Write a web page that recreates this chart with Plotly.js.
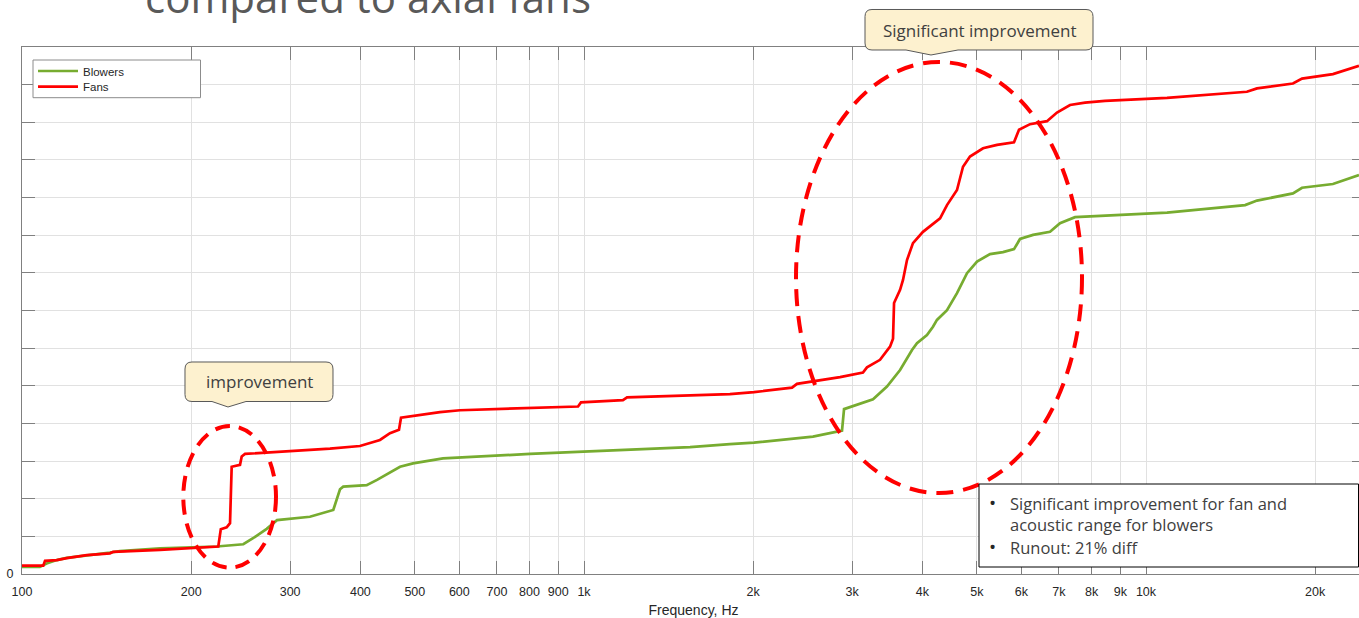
<!DOCTYPE html>
<html>
<head>
<meta charset="utf-8">
<script src="https://cdn.plot.ly/plotly-3.0.1.min.js"></script>
<style>
html,body{margin:0;padding:0;overflow:hidden;background:#ffffff;}
#chart{width:1365px;height:618px;}
</style>
</head>
<body>
<div id="chart"></div>
<script>
// ---------------- DATA ----------------
const seriesNames = ['Blowers', 'Fans'];

const blowerFreq = [100,107.6,110.6,115.3,120.1,130.4,143.4,149.3,176.1,222.0,247.6,257.7,272.5,284.3,325.3,358.0,362.8,368.0,372.9,410.5,428.3,448.0,470.6,496.3,532.1,561.2,801.6,1055,1544,1818,2007,2555,2740,2878,2902,3061,3268,3460,3651,3834,3913,4076,4178,4247,4425,4610,4803,5004,5278,5566,5823,5968,6295,6749,7031,7476,8282,10900,15010,15760,18260,18950,21510,23930];
const blowerLevel = [0.19,0.19,0.28,0.37,0.43,0.49,0.57,0.61,0.68,0.73,0.79,0.95,1.20,1.43,1.52,1.70,1.97,2.25,2.32,2.36,2.50,2.67,2.85,2.94,3.01,3.07,3.19,3.27,3.37,3.45,3.49,3.65,3.74,3.81,4.38,4.49,4.64,4.98,5.42,5.95,6.13,6.35,6.57,6.75,7.01,7.46,7.99,8.30,8.50,8.55,8.63,8.90,9.01,9.09,9.32,9.48,9.51,9.60,9.80,9.92,10.11,10.26,10.36,10.60];

const fanFreq = [100,109.1,109.9,115.3,120.1,129.5,130.4,143.4,145.3,176.1,196.6,223.5,225.8,231.3,234.5,236.1,244.3,246.0,249.4,312.5,353.2,399.3,433.5,451.6,468.6,472.5,500.4,554.3,601.6,801.6,975.7,987.8,1173,1193,1818,2007,2345,2393,2555,2855,3136,3188,3363,3504,3547,3562,3651,3695,3756,3849,4010,4301,4425,4610,4725,4862,5129,5432,5823,5943,6218,6665,6944,7325,7790,8453,10900,15120,15760,18260,18950,21510,23930];
const fanLevel = [0.22,0.22,0.35,0.37,0.42,0.48,0.50,0.55,0.59,0.64,0.68,0.73,1.19,1.24,1.35,2.85,2.90,3.12,3.19,3.27,3.33,3.40,3.56,3.74,3.83,4.15,4.21,4.30,4.35,4.42,4.45,4.56,4.62,4.69,4.78,4.83,4.95,5.05,5.11,5.23,5.35,5.49,5.69,6.04,6.25,7.20,7.55,7.81,8.34,8.79,9.09,9.45,9.80,10.20,10.82,11.09,11.31,11.40,11.47,11.80,11.95,12.03,12.26,12.46,12.52,12.57,12.65,12.81,12.90,13.03,13.16,13.28,13.50];

const xTickVals = [100,200,300,400,500,600,700,800,900,1000,2000,3000,4000,5000,6000,7000,8000,9000,10000,20000];
const xTickText = ['100','200','300','400','500','600','700','800','900','1k','2k','3k','4k','5k','6k','7k','8k','9k','10k','20k'];
const yTickVals = [0,1,2,3,4,5,6,7,8,9,10,11,12,13,14];
const yTickText = ['0','','','','','','','','','','','','','',''];

const titleText = 'compared to axial fans';
const xTitleText = 'Frequency, Hz';
const calloutSmallText = 'improvement';
const calloutBigText = 'Significant improvement';
const noteLine1 = 'Significant improvement for fan and<br>acoustic range for blowers';
const noteLine2 = 'Runout: 21% diff';

// ---------------- LAYOUT GEOMETRY ----------------
const W = 1365, H = 618, ML = 22, MR = 0, MT = 47, MB = 44;
const PW = W - ML - MR, PH = H - MT - MB;
const DECADE_PX = 562;
function px(x){ return (x - ML) / PW; }
function py(y){ return (H - MB - y) / PH; }
function P(x, y){ return px(x).toFixed(5) + ',' + py(y).toFixed(5); }
function calloutPath(l, t, r, b, rad, w0, tipx, tipy, w1){
  return 'M' + P(l + rad, t) +
    ' L' + P(r - rad, t) + ' Q' + P(r, t) + ' ' + P(r, t + rad) +
    ' L' + P(r, b - rad) + ' Q' + P(r, b) + ' ' + P(r - rad, b) +
    ' L' + P(w1, b) + ' L' + P(tipx, tipy) + ' L' + P(w0, b) +
    ' L' + P(l + rad, b) + ' Q' + P(l, b) + ' ' + P(l, b - rad) +
    ' L' + P(l, t + rad) + ' Q' + P(l, t) + ' ' + P(l + rad, t) + ' Z';
}

const axisGray = '#808080';
const gridGray = '#e1e1e1';
const tickFont = {family: 'Liberation Sans, Arial, sans-serif', size: 12.5, color: '#262626'};
const legendFont = {family: 'Liberation Sans, Arial, sans-serif', size: 11.5, color: '#262626'};
const slideFont = 'Open Sans, sans-serif';

const traces = [
  {x: blowerFreq, y: blowerLevel, name: seriesNames[0], type: 'scatter', mode: 'lines',
   line: {color: '#77ac30', width: 2.7}, hoverinfo: 'skip', legend: 'legend'},
  {x: fanFreq, y: fanLevel, name: seriesNames[1], type: 'scatter', mode: 'lines',
   line: {color: '#ff0000', width: 2.7}, hoverinfo: 'skip', legend: 'legend2'}
];

function legendAt(yPix){
  return {x: px(33), y: py(yPix), xanchor: 'left', yanchor: 'middle',
          bgcolor: 'rgba(0,0,0,0)', borderwidth: 0, font: legendFont,
          itemwidth: 40, tracegroupgap: 0};
}

const layout = {
  width: W, height: H,
  margin: {l: ML, r: MR, t: MT, b: MB, pad: 0},
  paper_bgcolor: '#ffffff', plot_bgcolor: '#ffffff',
  showlegend: true,
  title: {text: titleText, font: {family: slideFont, size: 42, color: '#595959'},
          xref: 'container', yref: 'container', x: 368 / W, xanchor: 'center',
          y: 1 - 12.7 / H, yanchor: 'bottom'},
  xaxis: {type: 'log', range: [2, 2 + PW / DECADE_PX], tickmode: 'array',
          tickvals: xTickVals, ticktext: xTickText,
          ticks: 'inside', ticklen: 13, tickwidth: 1, tickcolor: axisGray,
          showline: true, linecolor: axisGray, linewidth: 1, mirror: 'ticks',
          showgrid: true, gridcolor: gridGray, gridwidth: 1, zeroline: false,
          tickfont: tickFont, ticklabelstandoff: 6, automargin: false, fixedrange: true,
          title: {text: xTitleText, font: {family: 'Liberation Sans, Arial, sans-serif', size: 14, color: '#262626'}, standoff: 8}},
  yaxis: {range: [0, 14], tickmode: 'array', tickvals: yTickVals, ticktext: yTickText,
          ticks: 'inside', ticklen: 13, tickwidth: 1, tickcolor: axisGray,
          showline: true, linecolor: axisGray, linewidth: 1, mirror: 'ticks',
          showgrid: true, gridcolor: gridGray, gridwidth: 1, zeroline: false,
          tickfont: tickFont, ticklabelstandoff: 5, automargin: false, fixedrange: true},
  legend: legendAt(71),
  legend2: legendAt(86.7),
  shapes: [
    {type: 'rect', xref: 'paper', yref: 'paper', layer: 'above',
     x0: px(33), x1: px(200.5), y0: py(97.7), y1: py(60),
     fillcolor: '#ffffff', line: {color: '#8c8c8c', width: 1}},
    {type: 'circle', xref: 'paper', yref: 'paper', layer: 'above',
     x0: px(183.3), x1: px(276), y0: py(567.7), y1: py(426),
     line: {color: '#ff0000', width: 4, dash: '15px,9px'}},
    {type: 'circle', xref: 'paper', yref: 'paper', layer: 'above',
     x0: px(796), x1: px(1082), y0: py(493), y1: py(62),
     line: {color: '#ff0000', width: 4, dash: '17px,10px'}},
    {type: 'path', xref: 'paper', yref: 'paper', layer: 'above',
     path: calloutPath(185, 362, 333, 401.5, 7, 212, 228, 407, 246),
     fillcolor: '#fdf1cf', line: {color: '#595959', width: 1}},
    {type: 'path', xref: 'paper', yref: 'paper', layer: 'above',
     path: calloutPath(865, 9.5, 1093, 50, 7, 906, 931, 55, 958),
     fillcolor: '#fdf1cf', line: {color: '#595959', width: 1}},
    {type: 'rect', xref: 'paper', yref: 'paper', layer: 'above',
     x0: px(979), x1: px(1358.5), y0: py(567), y1: py(484),
     fillcolor: '#ffffff', line: {color: '#000000', width: 1}}
  ],
  annotations: [
    {xref: 'paper', yref: 'paper', x: px(259), y: py(381.5), text: calloutSmallText, showarrow: false,
     xanchor: 'center', yanchor: 'middle', font: {family: slideFont, size: 17, color: '#404040'}},
    {xref: 'paper', yref: 'paper', x: px(979), y: py(30), text: calloutBigText, showarrow: false,
     xanchor: 'center', yanchor: 'middle', font: {family: slideFont, size: 17, color: '#404040'}},
    {xref: 'paper', yref: 'paper', x: px(992), y: py(503.3), text: '•', showarrow: false,
     xanchor: 'center', yanchor: 'middle', font: {family: slideFont, size: 19, color: '#262626'}},
    {xref: 'paper', yref: 'paper', x: px(1008), y: py(514.2), text: noteLine1, showarrow: false, align: 'left',
     xanchor: 'left', yanchor: 'middle', font: {family: slideFont, size: 16.5, color: '#404040'}},
    {xref: 'paper', yref: 'paper', x: px(992), y: py(547.3), text: '•', showarrow: false,
     xanchor: 'center', yanchor: 'middle', font: {family: slideFont, size: 19, color: '#262626'}},
    {xref: 'paper', yref: 'paper', x: px(1008), y: py(547.3), text: noteLine2, showarrow: false, align: 'left',
     xanchor: 'left', yanchor: 'middle', font: {family: slideFont, size: 16.5, color: '#404040'}}
  ]
};

Plotly.newPlot('chart', traces, layout, {displayModeBar: false, staticPlot: true, responsive: false});
</script>
</body>
</html>
